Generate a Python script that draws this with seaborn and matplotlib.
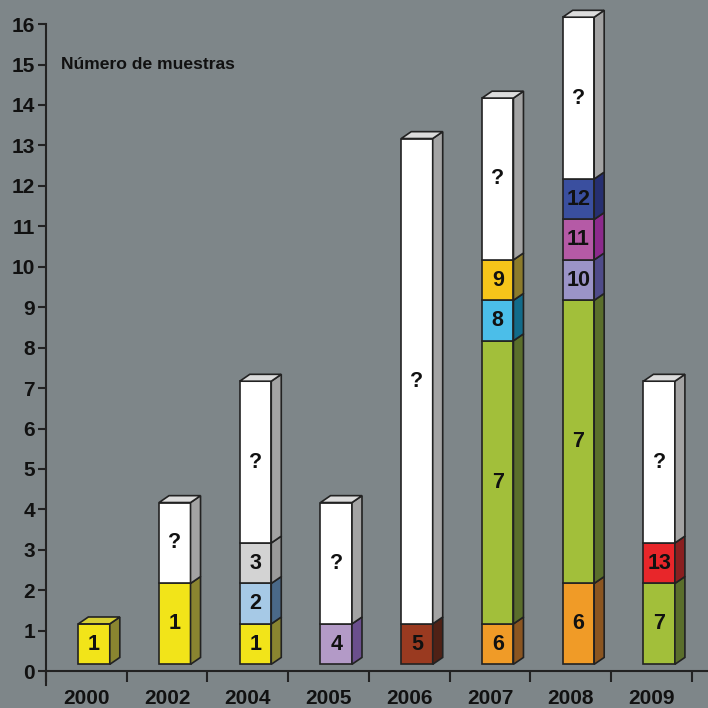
import numpy as np
import pandas as pd
import seaborn as sns
import matplotlib.pyplot as plt
from matplotlib.patches import Polygon

# data
years = ['2000', '2002', '2004', '2005', '2006', '2007', '2008', '2009']
seg_labels = [['1'], ['1', '?'], ['1', '2', '3', '?'], ['4', '?'], ['5', '?'],
              ['6', '7', '8', '9', '?'], ['6', '7', '10', '11', '12', '?'], ['7', '13', '?']]
seg_counts = [[1], [2, 2], [1, 1, 1, 4], [1, 3], [1, 12],
              [1, 7, 1, 1, 4], [2, 7, 1, 1, 1, 4], [2, 1, 4]]
y_ticks = list(range(0, 17))
title = 'Número de muestras'

# front / side / top colours per label
front = {'1': '#f2e419', '2': '#a6c9e6', '3': '#d3d3d3', '4': '#b39ac7', '5': '#9a3a20',
         '6': '#f09b27', '7': '#a2bf3a', '8': '#4bbee9', '9': '#f6c51a', '10': '#9b94c7',
         '11': '#b55aa6', '12': '#3a4f9f', '13': '#e8262a', '?': '#ffffff'}
side = {'1': '#8a8530', '2': '#4a6988', '3': '#9a9a9a', '4': '#6b4f8d', '5': '#4f2116',
        '6': '#8b5520', '7': '#5a6e2b', '8': '#126b8a', '9': '#8c7b2b', '10': '#4f4b89',
        '11': '#8c2a8c', '12': '#262f70', '13': '#8a1f20', '?': '#a3a3a3'}
top = {'1': '#d6cf35', '?': '#dcdcdc'}

rows = []
for i, (labs, cnts) in enumerate(zip(seg_labels, seg_counts)):
    bottoms = np.concatenate([[0], np.cumsum(cnts)[:-1]])
    for lab, c, b in zip(labs, cnts, bottoms):
        rows.append(dict(pos=i, year=years[i], label=lab, count=c, bottom=b))
df = pd.DataFrame(rows)

sns.set_theme(style='ticks')
plt.rcParams['font.family'] = ['Liberation Sans', 'DejaVu Sans']
plt.rcParams['font.weight'] = 'bold'

bg = '#7e8689'
edge = '#222222'
fig = plt.figure(figsize=(7.08, 7.08), dpi=100, facecolor=bg)
ax = fig.add_axes([0.065, 0.032, 0.935, 0.934], facecolor=bg)

x_off, w = -0.1, 0.39    # front face position within category
dx, dy = 0.124, 0.17     # 3D depth

for _, r in df.iterrows():
    x0 = r.pos + x_off
    x1 = x0 + w
    b = r.bottom + dy
    t = r.bottom + r['count'] + dy
    ax.bar(x0, r['count'], width=w, bottom=b, align='edge', color=front[r.label],
           edgecolor=edge, linewidth=1.2, zorder=3, clip_on=False)
    ax.add_patch(Polygon([(x1, b), (x1 + dx, b + dy), (x1 + dx, t + dy), (x1, t)],
                         closed=True, facecolor=side[r.label], edgecolor=edge,
                         linewidth=1.2, zorder=3, clip_on=False))
    ax.text(x0 + w / 2, (b + t) / 2, r.label, ha='center', va='center',
            fontsize=15.5, fontweight='bold', color='#111111', zorder=4)

# top faces of each stack
for i in range(len(years)):
    last = df[df.pos == i].iloc[-1]
    x0 = i + x_off
    x1 = x0 + w
    t = last.bottom + last['count'] + dy
    ax.add_patch(Polygon([(x0, t), (x0 + dx, t + dy), (x1 + dx, t + dy), (x1, t)],
                         closed=True, facecolor=top.get(last.label, '#dddddd'),
                         edgecolor=edge, linewidth=1.2, zorder=3, clip_on=False))

ax.set_xlim(-0.5, 7.7)
ax.set_ylim(-0.35, 16)
ax.spines['bottom'].set_position(('data', 0))
ax.spines['top'].set_visible(False)
ax.spines['right'].set_visible(False)
for s in ['left', 'bottom']:
    ax.spines[s].set_color(edge)
    ax.spines[s].set_linewidth(1.5)

ax.set_yticks(y_ticks)
ax.set_yticklabels([str(v) for v in y_ticks], fontsize=15, fontweight='bold')
ax.set_xticks(np.arange(-0.5, 8, 1))
ax.set_xticklabels([])
ax.set_xticks(np.arange(len(years)), minor=True)
ax.set_xticklabels(years, minor=True, fontsize=15, fontweight='bold')
ax.tick_params(axis='x', which='major', length=8, width=1.5, color=edge, direction='out')
ax.tick_params(axis='x', which='minor', length=0, pad=13, labelcolor='#111111')
ax.tick_params(axis='y', length=6, width=1.5, color=edge, pad=2, labelcolor='#111111')

ax.text(-0.32, 15, title, ha='left', va='center', fontsize=12.6, fontweight='bold', color='#111111')

fig.savefig('out.png', dpi=100, facecolor=bg)
